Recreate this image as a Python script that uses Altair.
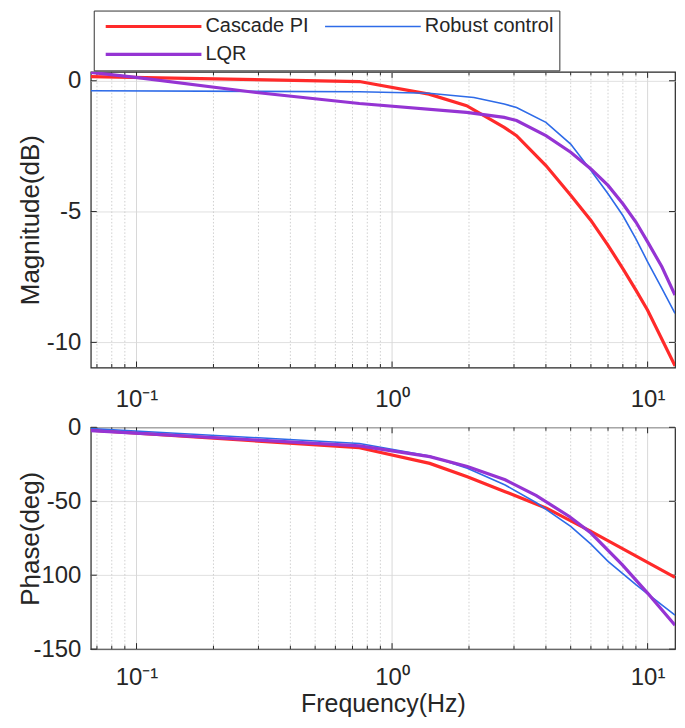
import altair as alt
import pandas as pd

FONT = "Liberation Sans"
TXT = "#262626"

SERIES = ["Cascade PI", "Robust control", "LQR"]
COLORS = ["#FF2A2A", "#2E6BE8", "#9534D3"]
WIDTHS = [3.2, 1.6, 3.2]

F_MIN, F_MAX = 0.0662, 12.8
MAJOR_F = [0.1, 1, 10]
MINOR_F = [0.07, 0.08, 0.09, 0.2, 0.3, 0.4, 0.5, 0.6, 0.7, 0.8, 0.9,
           2, 3, 4, 5, 6, 7, 8, 9]
X_LABELS = ["10⁻¹", "10⁰", "10¹"]

MAG_TICKS = [0, -5, -10]
MAG_DOMAIN = [-10.96, 0.34]
PHASE_TICKS = [0, -50, -100, -150]
PHASE_DOMAIN = [-150, 0]

# ---- magnitude (dB) ----
PI_MAG_F = [0.0662, 0.745, 1.395, 1.957, 2.747, 3.07, 4, 5, 6, 7, 8, 9, 10, 12.8]
PI_MAG = [0.16, -0.03, -0.51, -0.95, -1.78, -2.10, -3.24, -4.38, -5.34, -6.29, -7.18, -8.0, -8.77, -10.9]

RC_MAG_F = [0.0662, 0.745, 1.395, 2.09, 2.747, 3.07, 4, 5, 6, 7, 8, 9, 10, 11.37, 12.8]
RC_MAG = [-0.38, -0.42, -0.48, -0.64, -0.89, -1.02, -1.59, -2.42, -3.43, -4.32, -5.15, -6.04, -6.92, -7.94, -8.89]

LQR_MAG_F = [0.0662, 0.0993, 0.294, 0.745, 1.957, 2.747, 3.07, 4, 5, 6, 7, 8, 9, 10, 11.37, 12.8]
LQR_MAG = [0.32, 0.13, -0.45, -0.87, -1.21, -1.40, -1.52, -2.10, -2.73, -3.37, -4.0, -4.70, -5.40, -6.16, -7.11, -8.19]

# ---- phase (deg) ----
PI_PH_F = [0.0662, 0.745, 1.404, 1.97, 2.77, 4.02, 6.0, 12.8]
PI_PH = [-1.9, -13.8, -24.4, -33.4, -43.5, -54.7, -70.4, -101.5]

RC_PH_F = [0.0662, 0.745, 1.404, 1.97, 2.77, 3.67, 5, 6, 7, 9, 10, 12.8]
RC_PH = [-0.8, -10.9, -19.4, -27.7, -39, -51, -67, -79, -90.6, -106.4, -112.7, -127]

LQR_PH_F = [0.0662, 0.745, 1.404, 1.97, 2.77, 3.67, 4.94, 6, 7.95, 10.1, 12.8]
LQR_PH = [-2.2, -12.6, -19.8, -26.5, -35.5, -46.2, -60.3, -71.5, -92.9, -113, -133.8]


def long_df(f_lists, v_lists):
    rows = []
    for s, fl, vl in zip(SERIES, f_lists, v_lists):
        rows += [{"series": s, "f": f, "val": v} for f, v in zip(fl, vl)]
    return pd.DataFrame(rows)


mag_df = long_df([PI_MAG_F, RC_MAG_F, LQR_MAG_F], [PI_MAG, RC_MAG, LQR_MAG])
ph_df = long_df([PI_PH_F, RC_PH_F, LQR_PH_F], [PI_PH, RC_PH, LQR_PH])
major_df = pd.DataFrame({"f": MAJOR_F})
minor_df = pd.DataFrame({"f": MINOR_F})

x_label_expr = "datum.value < 0.5 ? '{}' : (datum.value < 5 ? '{}' : '{}')".format(*X_LABELS)
y_label_expr = "datum.value < 0 ? '-' + abs(datum.value) : '' + datum.value"

W = 586


def panel(lines_df, ydomain, yticks, ytitle, h, xtitle, legend, label_pad):
    xsc = alt.Scale(type="log", domain=[F_MIN, F_MAX], nice=False)
    ysc = alt.Scale(domain=ydomain, nice=False, zero=False)
    xkw = dict(values=MAJOR_F, labelExpr=x_label_expr, grid=False, ticks=False, tickSize=0,
               domain=False, labelFontSize=24, labelPadding=label_pad, labelColor=TXT,
               labelFlush=False, labelOverlap=False, labelFont=FONT)
    if xtitle:
        xax = alt.Axis(title=xtitle, titleFontSize=25, titleFontWeight="normal",
                       titleColor=TXT, titlePadding=3, titleFont=FONT, **xkw)
    else:
        xax = alt.Axis(title=None, **xkw)
    X = alt.X("f:Q", scale=xsc, axis=xax)
    yax = alt.Axis(values=yticks, labelExpr=y_label_expr, grid=True, gridColor="#E0E0E0",
                   gridWidth=1, ticks=False, tickSize=0, domain=False, labelFontSize=24,
                   labelPadding=10, labelColor=TXT, labelFont=FONT, title=ytitle,
                   titleFontSize=26, titleFontWeight="normal", titleColor=TXT,
                   titleFont=FONT, titleX=-60, titleBaseline="middle")
    Y = alt.Y("val:Q", scale=ysc, axis=yax)
    ytick_df = pd.DataFrame({"val": yticks})

    minor_grid = alt.Chart(minor_df).mark_rule(
        color="#C4C4C4", strokeWidth=0.8, strokeDash=[1.5, 2]).encode(x=X)
    major_grid = alt.Chart(major_df).mark_rule(
        color="#D8D8D8", strokeWidth=1).encode(x=X)

    def xticks(df, length, top):
        if top:
            enc = dict(y=alt.value(0), y2=alt.value(length))
        else:
            enc = dict(y=alt.value(h), y2=alt.value(h - length))
        return alt.Chart(df).mark_rule(color=TXT, strokeWidth=1).encode(x=X, **enc)

    def yticks_layer(right):
        if right:
            enc = dict(x=alt.value(W), x2=alt.value(W - 6))
        else:
            enc = dict(x=alt.value(0), x2=alt.value(6))
        return alt.Chart(ytick_df).mark_rule(color=TXT, strokeWidth=1).encode(y=Y, **enc)

    lines = alt.Chart(lines_df).mark_line(clip=True).encode(
        x=X, y=Y,
        color=alt.Color("series:N", scale=alt.Scale(domain=SERIES, range=COLORS), legend=legend),
        strokeWidth=alt.StrokeWidth("series:N", scale=alt.Scale(type="ordinal", domain=SERIES, range=WIDTHS), legend=None),
    )
    return alt.layer(
        minor_grid, major_grid,
        xticks(minor_df, 3.5, False), xticks(minor_df, 3.5, True),
        xticks(major_df, 6, False), xticks(major_df, 6, True),
        yticks_layer(False), yticks_layer(True),
        lines,
    ).properties(width=W, height=h)


legend = alt.Legend(
    title=None, orient="none", legendX=3, legendY=-61.5, columns=2, direction="horizontal",
    symbolType="M0,0H24", symbolSize=64, symbolStrokeWidth=3, symbolOffset=-4,
    labelFont=FONT, labelFontSize=20, labelColor=TXT, labelOffset=90, labelLimit=400,
    columnPadding=10, rowPadding=8, padding=6, strokeColor="#333333", fillColor="white",
)

top = panel(mag_df, MAG_DOMAIN, MAG_TICKS, "Magnitude(dB)", 296.5, None, legend, 20)
bottom = panel(ph_df, PHASE_DOMAIN, PHASE_TICKS, "Phase(deg)", 222.5, "Frequency(Hz)", None, 16)

chart = alt.vconcat(top, bottom, spacing=59.5, bounds="flush").resolve_scale(
    color="independent", strokeWidth="independent"
).properties(
    padding={"left": 9, "top": 0, "right": 0, "bottom": 0}
).configure(font=FONT).configure_view(stroke=TXT, strokeWidth=1.2)

chart.save("out.html", embed_options={"renderer": "svg", "actions": False})
